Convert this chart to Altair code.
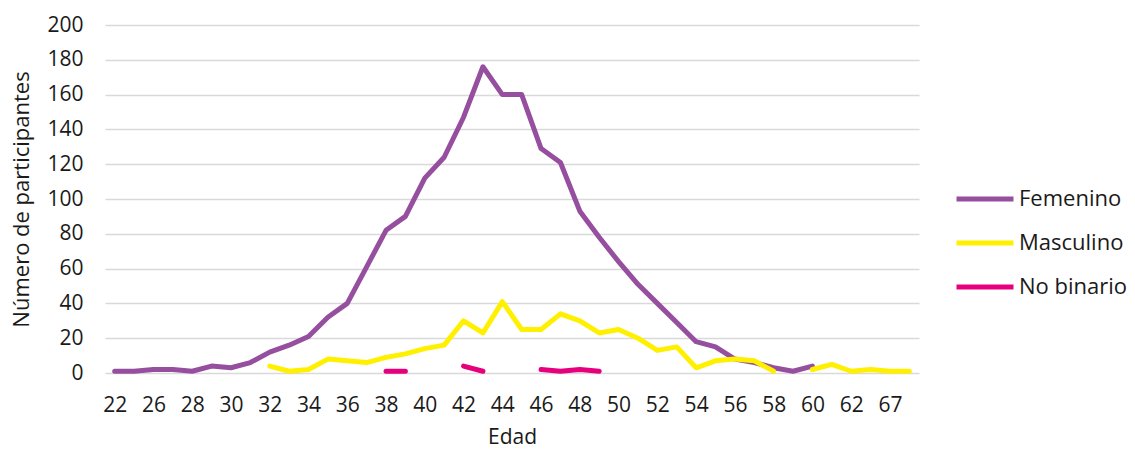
import altair as alt
import pandas as pd

ages = ["22", "24", "26", "27", "28", "29", "30", "31", "32", "33", "34", "35",
        "36", "37", "38", "39", "40", "41", "42", "43", "44", "45", "46", "47",
        "48", "49", "50", "51", "52", "53", "54", "55", "56", "57", "58", "59",
        "60", "61", "62", "63", "67", "68"]

femenino = [1, 1, 2, 2, 1, 4, 3, 6, 12, 16, 21, 32,
            40, 61, 82, 90, 112, 124, 147, 176, 160, 160, 129, 121,
            93, 78, 64, 51, 40, 29, 18, 15, 8, 6, 3, 1,
            4, None, None, None, None, None]

masculino = [None, None, None, None, None, None, None, None, 4, 1, 2, 8,
             7, 6, 9, 11, 14, 16, 30, 23, 41, 25, 25, 34,
             30, 23, 25, 20, 13, 15, 3, 7, 8, 7, 1, None,
             2, 5, 1, 2, 1, 1]

no_binario = [None, None, None, None, None, None, None, None, None, None, None, None,
              None, None, 1, 1, None, None, 4, 1, None, None, 2, 1,
              2, 1, None, None, None, None, None, None, None, None, None, None,
              None, None, None, None, None, None]

series = ["Femenino", "Masculino", "No binario"]
colors = ["#954F9E", "#FFF000", "#E6007E"]
shown_labels = ages[::2]

rows = []
for name, vals in zip(series, [femenino, masculino, no_binario]):
    for a, v in zip(ages, vals):
        rows.append({"Edad": a, "Sexo": name, "Valor": v})
df = pd.DataFrame(rows)

FONT = "Open Sans"
TXT = "#1a1a1a"
FS = 21

chart = alt.Chart(df).mark_line(
    strokeWidth=5, strokeCap="round", strokeJoin="round"
).encode(
    x=alt.X("Edad:O", sort=ages,
            scale=alt.Scale(domain=ages, padding=0.5),
            axis=alt.Axis(values=shown_labels, labelAngle=0, ticks=False, domain=False,
                          grid=False, labelFontSize=FS, labelPadding=21, labelColor=TXT,
                          title="Edad", titleFontSize=FS, titleFontWeight="normal",
                          titleColor=TXT, titlePadding=11)),
    y=alt.Y("Valor:Q",
            scale=alt.Scale(domain=[0, 200]),
            axis=alt.Axis(values=list(range(0, 201, 20)), ticks=False, domain=False,
                          gridColor="#D9D9D9", gridWidth=1.5,
                          labelFontSize=FS, labelPadding=22, labelColor=TXT,
                          title="Número de participantes", titleFontSize=22,
                          titleFontWeight="normal", titleColor=TXT, titlePadding=13)),
    color=alt.Color("Sexo:N",
                    scale=alt.Scale(domain=series, range=colors),
                    legend=alt.Legend(title=None, orient="none", legendX=849, legendY=143,
                                      symbolType="stroke", symbolSize=3249,
                                      symbolStrokeWidth=5, labelFontSize=22,
                                      labelColor=TXT, labelOffset=3, rowPadding=2)),
).properties(
    width=814, height=348,
    padding={"left": 105, "top": 25, "right": 216, "bottom": 77},
    autosize="none",
).configure(font=FONT).configure_view(stroke=None)

chart.save("out.html", embed_options={"renderer": "svg", "actions": False})
